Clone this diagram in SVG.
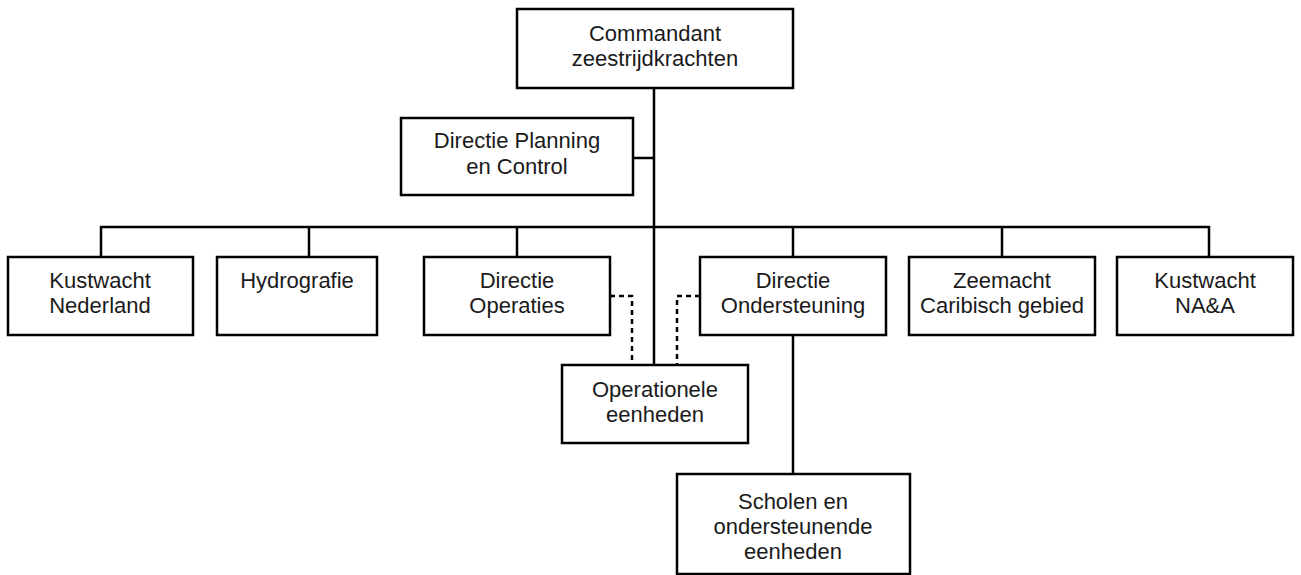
<svg xmlns="http://www.w3.org/2000/svg" width="1301" height="575" viewBox="0 0 1301 575">
<style>
.box{fill:#fff;stroke:#000;stroke-width:2.5}
.ln{fill:none;stroke:#000;stroke-width:2.5}
.dash{fill:none;stroke:#000;stroke-width:2.5;stroke-dasharray:5,4}
text{font-family:"Liberation Sans",Arial,sans-serif;font-size:22px;fill:#1a1a1a;text-anchor:middle}
</style>
<rect width="1301" height="575" fill="#fff"/>
<g id="connectors">
<line class="ln" x1="654" y1="88" x2="654" y2="365"/>
<line class="ln" x1="633" y1="158" x2="654" y2="158"/>
<polyline class="ln" points="101,257 101,227 1209,227 1209,257"/>
<line class="ln" x1="309" y1="227" x2="309" y2="257"/>
<line class="ln" x1="517" y1="227" x2="517" y2="257"/>
<line class="ln" x1="793" y1="227" x2="793" y2="257"/>
<line class="ln" x1="1002" y1="227" x2="1002" y2="257"/>
<line class="ln" x1="793" y1="335" x2="793" y2="474"/>
<polyline class="dash" points="610,296 632,296 632,365"/>
<polyline class="dash" points="700,296 677,296 677,365"/>
</g>
<g id="commandant"><rect class="box" x="517" y="9" width="276" height="79"/><text x="655" y="41">Commandant</text><text x="655" y="66">zeestrijdkrachten</text></g>
<g id="planning"><rect class="box" x="401" y="118" width="232" height="77"/><text x="517" y="148">Directie Planning</text><text x="517" y="174">en Control</text></g>
<g id="kustwacht-nl"><rect class="box" x="8" y="257" width="185" height="78"/><text x="100" y="288">Kustwacht</text><text x="100" y="313">Nederland</text></g>
<g id="hydrografie"><rect class="box" x="217" y="257" width="160" height="78"/><text x="297" y="288">Hydrografie</text></g>
<g id="operaties"><rect class="box" x="424" y="257" width="186" height="78"/><text x="517" y="288">Directie</text><text x="517" y="313">Operaties</text></g>
<g id="ondersteuning"><rect class="box" x="700" y="257" width="186" height="78"/><text x="793" y="288">Directie</text><text x="793" y="313">Ondersteuning</text></g>
<g id="zeemacht"><rect class="box" x="909" y="257" width="186" height="78"/><text x="1002" y="288">Zeemacht</text><text x="1002" y="313">Caribisch gebied</text></g>
<g id="kustwacht-naa"><rect class="box" x="1117" y="257" width="176" height="78"/><text x="1205" y="288">Kustwacht</text><text x="1205" y="313">NA&amp;A</text></g>
<g id="operationele"><rect class="box" x="562" y="365" width="186" height="78"/><text x="655" y="397">Operationele</text><text x="655" y="422">eenheden</text></g>
<g id="scholen"><rect class="box" x="677" y="474" width="233" height="100"/><text x="793" y="509">Scholen en</text><text x="793" y="534">ondersteunende</text><text x="793" y="559">eenheden</text></g>
</svg>
